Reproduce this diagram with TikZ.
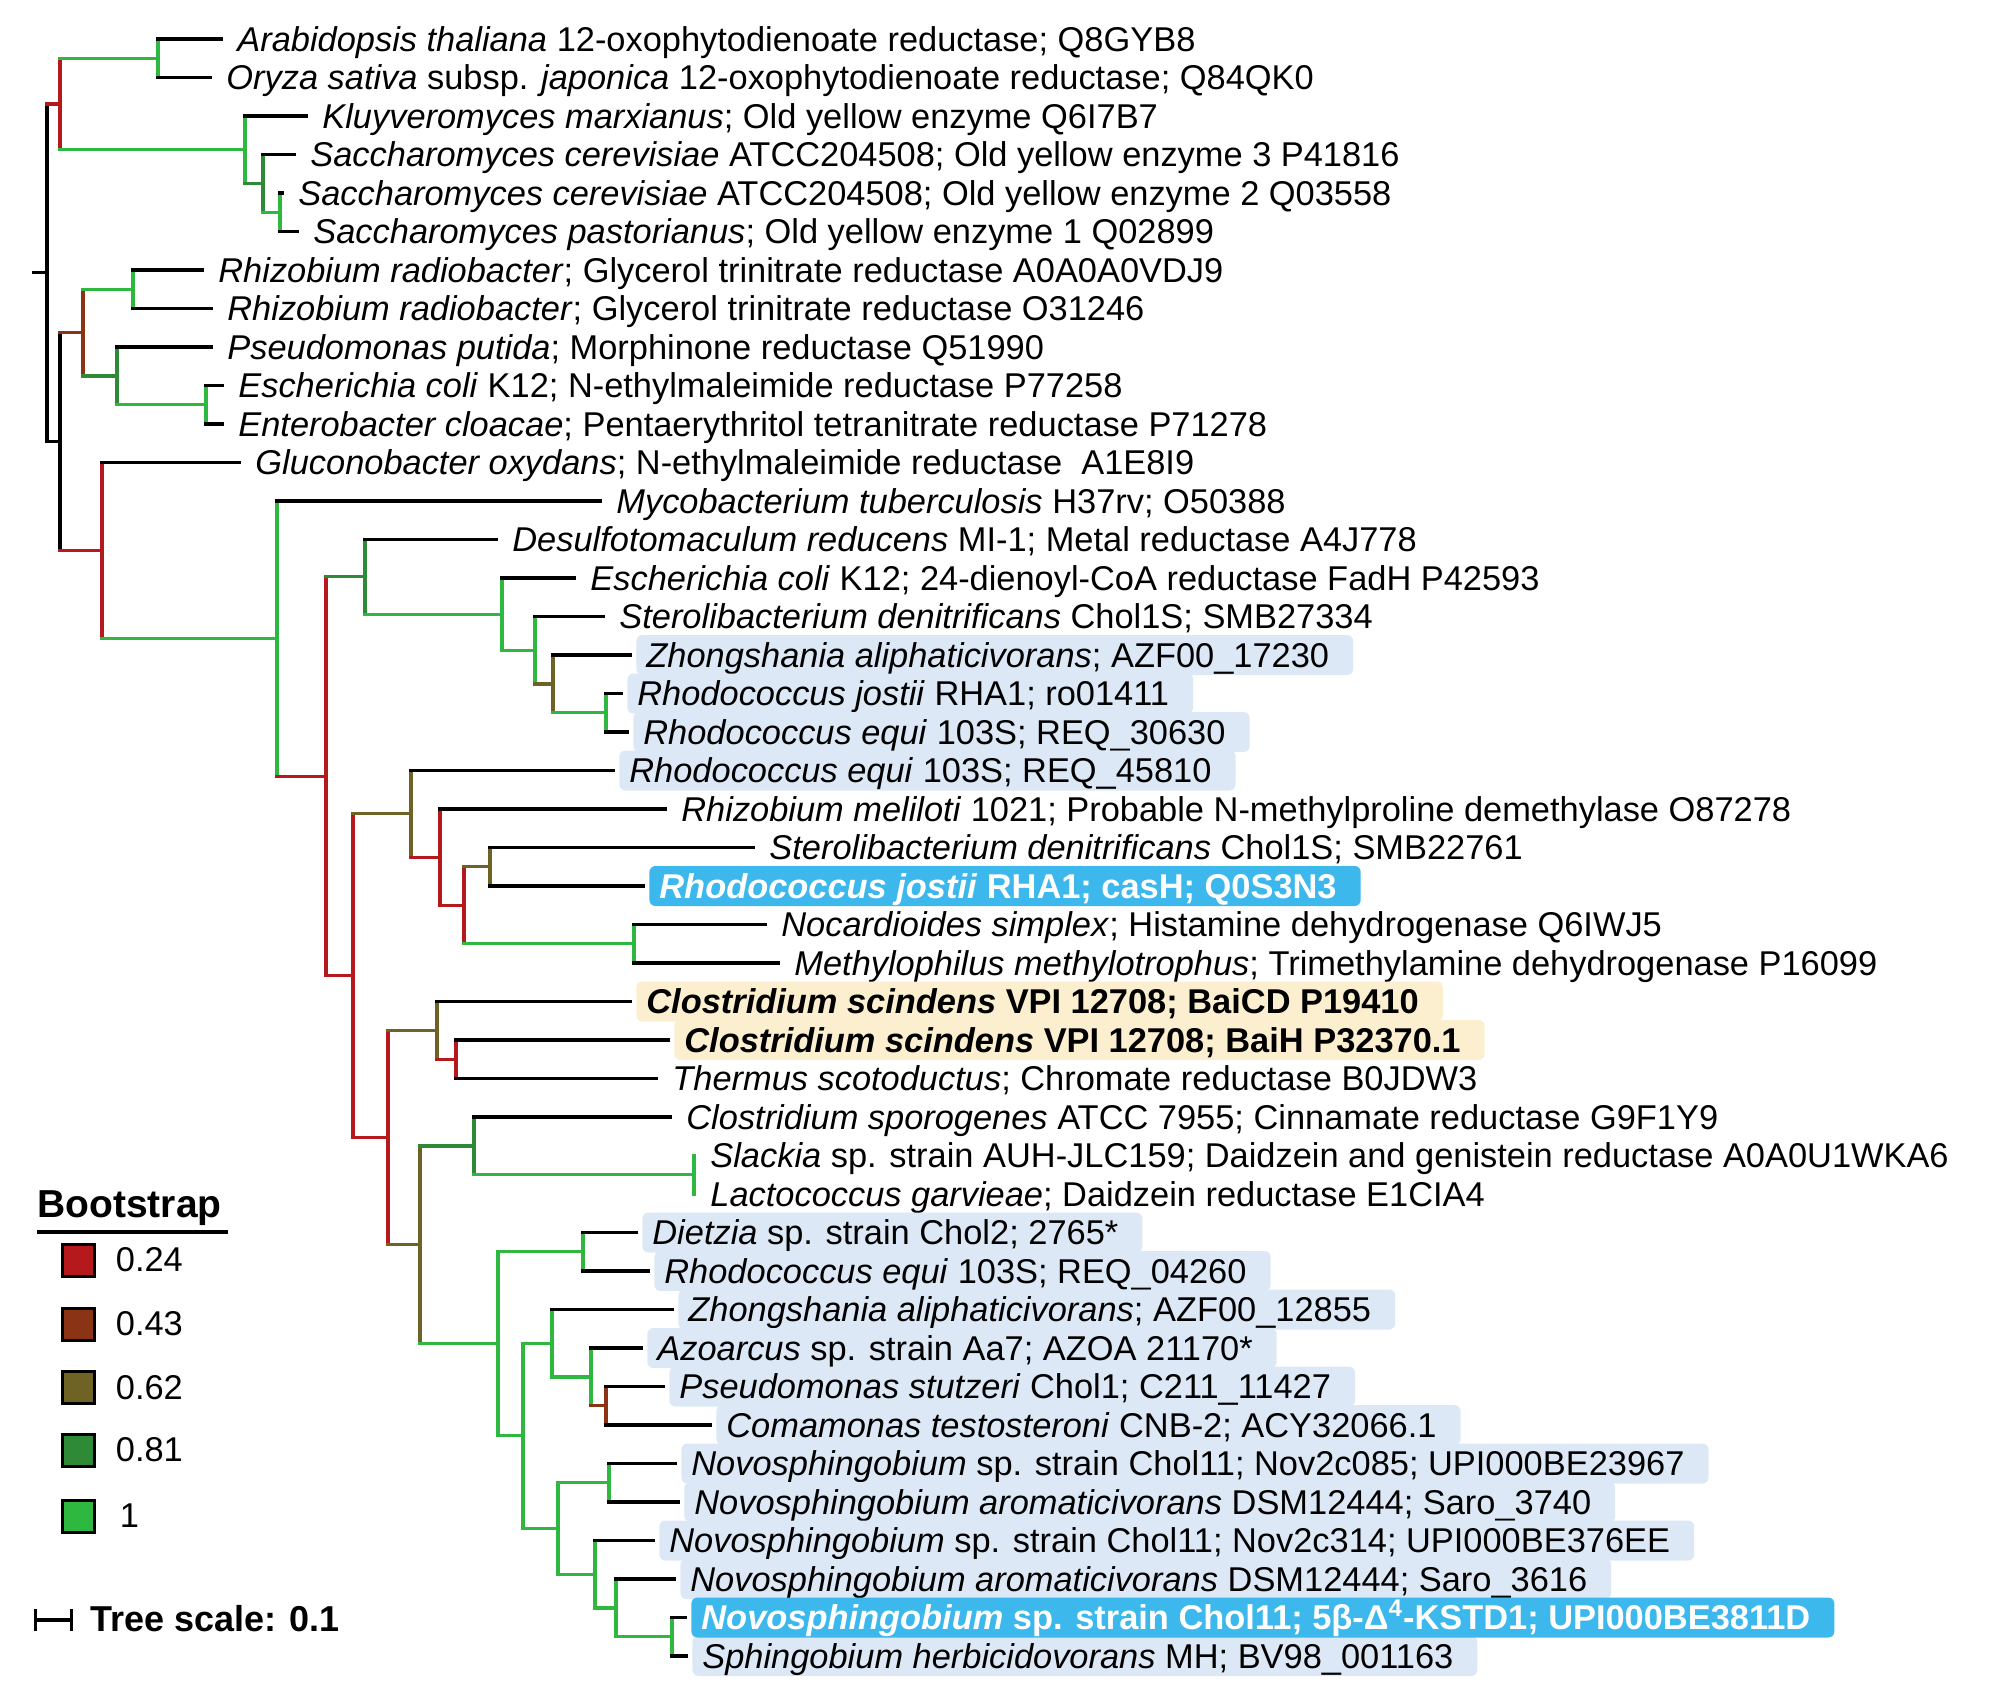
\documentclass[tikz,border=0pt]{standalone}
\usepackage{fontspec}
\setmainfont{Liberation Sans}
\usetikzlibrary{positioning,arrows.meta}

\definecolor{bs24}{HTML}{B5191C}
\definecolor{bs43}{HTML}{8A3315}
\definecolor{bs62}{HTML}{6E6224}
\definecolor{bs81}{HTML}{2E8A37}
\definecolor{bs100}{HTML}{2EB840}
\definecolor{hlblue}{HTML}{DCE8F5}
\definecolor{hlcyan}{HTML}{3CB8EC}
\definecolor{hlyellow}{HTML}{FCEFCF}

\newcommand{\leaffont}{\fontsize{17.2}{20}\selectfont}

\tikzset{
  br/.style={line width=1.6pt, line cap=rect},
  leaf/.style={br, black},
  lab/.style={anchor=west, xshift=3pt, inner xsep=5pt, inner ysep=2pt, text height=14pt, text depth=2pt, font=\leaffont},
  boxed/.style={rounded corners=3pt, execute at end node={\hspace*{7pt}}},
  labbg/.style={lab, boxed, fill=hlblue},
  labhl/.style={lab, boxed, fill=hlcyan, text=white, font=\leaffont\bfseries},
  labyl/.style={lab, boxed, fill=hlyellow, font=\leaffont\bfseries},
  sq/.style={draw=black, line width=1.5pt, minimum size=16pt, inner sep=0pt},
  leglab/.style={inner sep=0pt, font=\leaffont}
}

\begin{document}
\begin{tikzpicture}[x=0.5pt, y=-0.5pt]
    \useasboundingbox (0,0) rectangle (1991,1703);

    % leaves
    \coordinate (athal) at (221,39);
    \coordinate (osat) at (210,77.5);
    \coordinate (kmar) at (306,116);
    \coordinate (scer3) at (294,154.5);
    \coordinate (scer2) at (282,193);
    \coordinate (spas) at (297,231.5);
    \coordinate (rrad1) at (202,270);
    \coordinate (rrad2) at (211,308.5);
    \coordinate (pput) at (211,347);
    \coordinate (ecol1) at (222,385.5);
    \coordinate (eclo) at (222,424);
    \coordinate (goxy) at (239,462.5);
    \coordinate (mtub) at (600,501);
    \coordinate (dred) at (496,539.5);
    \coordinate (ecol2) at (574,578);
    \coordinate (sden1) at (603,616.5);
    \coordinate (zali1) at (630,655);
    \coordinate (rjos1) at (621,693.5);
    \coordinate (requ1) at (627,732);
    \coordinate (requ2) at (613,770.5);
    \coordinate (rmel) at (665,809);
    \coordinate (sden2) at (753,847.5);
    \coordinate (casH) at (643,886);
    \coordinate (nsim) at (765,924.5);
    \coordinate (mmet) at (778,963);
    \coordinate (baicd) at (630,1001.5);
    \coordinate (baih) at (668,1040);
    \coordinate (tsco) at (656,1078.5);
    \coordinate (cspo) at (670,1117);
    \coordinate (slac) at (694,1155.5);
    \coordinate (lgar) at (694,1194);
    \coordinate (diet) at (636,1232.5);
    \coordinate (requ3) at (648,1271);
    \coordinate (zali2) at (672,1309.5);
    \coordinate (azoa) at (641,1348);
    \coordinate (pstu) at (663,1386.5);
    \coordinate (ctes) at (710,1425);
    \coordinate (n085) at (675,1463.5);
    \coordinate (saro1) at (678,1502);
    \coordinate (n314) at (653,1540.5);
    \coordinate (saro2) at (674,1579);
    \coordinate (kstd1) at (685,1617.5);
    \coordinate (sher) at (686,1656);

    % labels
    \node[lab] (athal-t) at (athal) {\textit{Arabidopsis thaliana} 12-oxophytodienoate reductase; Q8GYB8};
    \node[lab] (osat-t) at (osat) {\textit{Oryza sativa} subsp. \textit{japonica} 12-oxophytodienoate reductase; Q84QK0};
    \node[lab] (kmar-t) at (kmar) {\textit{Kluyveromyces marxianus}; Old yellow enzyme Q6I7B7};
    \node[lab] (scer3-t) at (scer3) {\textit{Saccharomyces cerevisiae} ATCC204508; Old yellow enzyme 3 P41816};
    \node[lab] (scer2-t) at (scer2) {\textit{Saccharomyces cerevisiae} ATCC204508; Old yellow enzyme 2 Q03558};
    \node[lab] (spas-t) at (spas) {\textit{Saccharomyces pastorianus}; Old yellow enzyme 1 Q02899};
    \node[lab] (rrad1-t) at (rrad1) {\textit{Rhizobium radiobacter}; Glycerol trinitrate reductase A0A0A0VDJ9};
    \node[lab] (rrad2-t) at (rrad2) {\textit{Rhizobium radiobacter}; Glycerol trinitrate reductase O31246};
    \node[lab] (pput-t) at (pput) {\textit{Pseudomonas putida}; Morphinone reductase Q51990};
    \node[lab] (ecol1-t) at (ecol1) {\textit{Escherichia coli} K12; N-ethylmaleimide reductase P77258};
    \node[lab] (eclo-t) at (eclo) {\textit{Enterobacter cloacae}; Pentaerythritol tetranitrate reductase P71278};
    \node[lab] (goxy-t) at (goxy) {\textit{Gluconobacter oxydans}; N-ethylmaleimide reductase\ \ A1E8I9};
    \node[lab] (mtub-t) at (mtub) {\textit{Mycobacterium tuberculosis} H37rv; O50388};
    \node[lab] (dred-t) at (dred) {\textit{Desulfotomaculum reducens} MI-1; Metal reductase A4J778};
    \node[lab] (ecol2-t) at (ecol2) {\textit{Escherichia coli} K12; 24-dienoyl-CoA reductase FadH P42593};
    \node[lab] (sden1-t) at (sden1) {\textit{Sterolibacterium denitrificans} Chol1S; SMB27334};
    \node[labbg] (zali1-t) at (zali1) {\textit{Zhongshania aliphaticivorans}; AZF00\_17230};
    \node[labbg] (rjos1-t) at (rjos1) {\textit{Rhodococcus jostii} RHA1; ro01411};
    \node[labbg] (requ1-t) at (requ1) {\textit{Rhodococcus equi} 103S; REQ\_30630};
    \node[labbg] (requ2-t) at (requ2) {\textit{Rhodococcus equi} 103S; REQ\_45810};
    \node[lab] (rmel-t) at (rmel) {\textit{Rhizobium meliloti} 1021; Probable N-methylproline demethylase O87278};
    \node[lab] (sden2-t) at (sden2) {\textit{Sterolibacterium denitrificans} Chol1S; SMB22761};
    \node[labhl] (casH-t) at (casH) {\textit{Rhodococcus jostii} RHA1; casH; Q0S3N3};
    \node[lab] (nsim-t) at (nsim) {\textit{Nocardioides simplex}; Histamine dehydrogenase Q6IWJ5};
    \node[lab] (mmet-t) at (mmet) {\textit{Methylophilus methylotrophus}; Trimethylamine dehydrogenase P16099};
    \node[labyl] (baicd-t) at (baicd) {\textit{Clostridium scindens} VPI 12708; BaiCD P19410};
    \node[labyl] (baih-t) at (baih) {\textit{Clostridium scindens} VPI 12708; BaiH P32370.1};
    \node[lab] (tsco-t) at (tsco) {\textit{Thermus scotoductus}; Chromate reductase B0JDW3};
    \node[lab] (cspo-t) at (cspo) {\textit{Clostridium sporogenes} ATCC 7955; Cinnamate reductase G9F1Y9};
    \node[lab] (slac-t) at (slac) {\textit{Slackia} sp. strain AUH-JLC159; Daidzein and genistein reductase A0A0U1WKA6};
    \node[lab] (lgar-t) at (lgar) {\textit{Lactococcus garvieae}; Daidzein reductase E1CIA4};
    \node[labbg] (diet-t) at (diet) {\textit{Dietzia} sp. strain Chol2; 2765*};
    \node[labbg] (requ3-t) at (requ3) {\textit{Rhodococcus equi} 103S; REQ\_04260};
    \node[labbg] (zali2-t) at (zali2) {\textit{Zhongshania aliphaticivorans}; AZF00\_12855};
    \node[labbg] (azoa-t) at (azoa) {\textit{Azoarcus} sp. strain Aa7; AZOA 21170*};
    \node[labbg] (pstu-t) at (pstu) {\textit{Pseudomonas stutzeri} Chol1; C211\_11427};
    \node[labbg] (ctes-t) at (ctes) {\textit{Comamonas testosteroni} CNB-2; ACY32066.1};
    \node[labbg] (n085-t) at (n085) {\textit{Novosphingobium} sp. strain Chol11; Nov2c085; UPI000BE23967};
    \node[labbg] (saro1-t) at (saro1) {\textit{Novosphingobium aromaticivorans} DSM12444; Saro\_3740};
    \node[labbg] (n314-t) at (n314) {\textit{Novosphingobium} sp. strain Chol11; Nov2c314; UPI000BE376EE};
    \node[labbg] (saro2-t) at (saro2) {\textit{Novosphingobium aromaticivorans} DSM12444; Saro\_3616};
    \node[labbg] (sher-t) at (sher) {\textit{Sphingobium herbicidovorans} MH; BV98\_001163};
    \node[labhl] (kstd1-t) at (kstd1) {\textit{Novosphingobium} sp. strain Chol11; 5β-Δ\textsuperscript{4}-KSTD1; UPI000BE3811D};

    % inner nodes
    \coordinate (rootstub) at (33.5,272.8);
    \coordinate (root) at (47,272.8);
    \coordinate (oye) at (60,104);
    \coordinate (opr) at (158,58.25);
    \coordinate (yst) at (245,149.7);
    \coordinate (yst2) at (263,183.4);
    \coordinate (yst3) at (280,212.25);
    \coordinate (bact) at (60,441.6);
    \coordinate (nem) at (83,332.6);
    \coordinate (rrad) at (133,289.25);
    \coordinate (ppu) at (117,375.9);
    \coordinate (ent) at (206,404.75);
    \coordinate (rest) at (102,550.6);
    \coordinate (myc) at (277,638.6);
    \coordinate (ksa) at (326,776.3);
    \coordinate (des) at (365,576.8);
    \coordinate (fadh) at (502,614.1);
    \coordinate (ster) at (535,650.2);
    \coordinate (zho) at (553,683.9);
    \coordinate (rho) at (606,712.75);
    \coordinate (mid) at (353,975.7);
    \coordinate (cas) at (411,813.8);
    \coordinate (mel) at (440,857.1);
    \coordinate (tma) at (464,905.25);
    \coordinate (sdn) at (490,866.75);
    \coordinate (noc) at (634,943.75);
    \coordinate (bai) at (388,1137.6);
    \coordinate (scin) at (437,1030.4);
    \coordinate (scin2) at (456,1059.25);
    \coordinate (kst) at (420,1244.8);
    \coordinate (dzn) at (474,1145.9);
    \coordinate (sla) at (694,1174.75);
    \coordinate (act) at (498,1343.8);
    \coordinate (die) at (583,1251.75);
    \coordinate (pro) at (523,1435.8);
    \coordinate (zal) at (552,1343.2);
    \coordinate (azo) at (591,1376.9);
    \coordinate (pst) at (606,1405.75);
    \coordinate (nov) at (558,1528.5);
    \coordinate (nov1) at (609,1482.75);
    \coordinate (nov2) at (595,1574.2);
    \coordinate (nov3) at (616,1607.9);
    \coordinate (nov4) at (672,1636.75);

    % inner branches
    \draw[br] (rootstub) -- (root) (root |- oye) -- (root |- bact);
    \draw[br, bs24] (root |- oye) -- (oye) (oye |- opr) -- (oye |- yst);
    \draw[br, bs100] (oye |- opr) -- (opr) (opr |- athal) -- (opr |- osat);
    \draw[br, bs100] (oye |- yst) -- (yst) (yst |- kmar) -- (yst |- yst2);
    \draw[br, bs81] (yst |- yst2) -- (yst2) (yst2 |- scer3) -- (yst2 |- yst3);
    \draw[br, bs100] (yst2 |- yst3) -- (yst3) (yst3 |- scer2) -- (yst3 |- spas);
    \draw[br] (root |- bact) -- (bact) (bact |- nem) -- (bact |- rest);
    \draw[br, bs43] (bact |- nem) -- (nem) (nem |- rrad) -- (nem |- ppu);
    \draw[br, bs100] (nem |- rrad) -- (rrad) (rrad |- rrad1) -- (rrad |- rrad2);
    \draw[br, bs81] (nem |- ppu) -- (ppu) (ppu |- pput) -- (ppu |- ent);
    \draw[br, bs100] (ppu |- ent) -- (ent) (ent |- ecol1) -- (ent |- eclo);
    \draw[br, bs24] (bact |- rest) -- (rest) (rest |- goxy) -- (rest |- myc);
    \draw[br, bs100] (rest |- myc) -- (myc) (myc |- mtub) -- (myc |- ksa);
    \draw[br, bs24] (myc |- ksa) -- (ksa) (ksa |- des) -- (ksa |- mid);
    \draw[br, bs81] (ksa |- des) -- (des) (des |- dred) -- (des |- fadh);
    \draw[br, bs100] (des |- fadh) -- (fadh) (fadh |- ecol2) -- (fadh |- ster);
    \draw[br, bs100] (fadh |- ster) -- (ster) (ster |- sden1) -- (ster |- zho);
    \draw[br, bs62] (ster |- zho) -- (zho) (zho |- zali1) -- (zho |- rho);
    \draw[br, bs100] (zho |- rho) -- (rho) (rho |- rjos1) -- (rho |- requ1);
    \draw[br, bs24] (ksa |- mid) -- (mid) (mid |- cas) -- (mid |- bai);
    \draw[br, bs62] (mid |- cas) -- (cas) (cas |- requ2) -- (cas |- mel);
    \draw[br, bs24] (cas |- mel) -- (mel) (mel |- rmel) -- (mel |- tma);
    \draw[br, bs24] (mel |- tma) -- (tma) (tma |- sdn) -- (tma |- noc);
    \draw[br, bs62] (tma |- sdn) -- (sdn) (sdn |- sden2) -- (sdn |- casH);
    \draw[br, bs100] (tma |- noc) -- (noc) (noc |- nsim) -- (noc |- mmet);
    \draw[br, bs24] (mid |- bai) -- (bai) (bai |- scin) -- (bai |- kst);
    \draw[br, bs62] (bai |- scin) -- (scin) (scin |- baicd) -- (scin |- scin2);
    \draw[br, bs24] (scin |- scin2) -- (scin2) (scin2 |- baih) -- (scin2 |- tsco);
    \draw[br, bs62] (bai |- kst) -- (kst) (kst |- dzn) -- (kst |- act);
    \draw[br, bs81] (kst |- dzn) -- (dzn) (dzn |- cspo) -- (dzn |- sla);
    \draw[br, bs100] (dzn |- sla) -- (sla) (sla |- slac) -- (sla |- lgar);
    \draw[br, bs100] (kst |- act) -- (act) (act |- die) -- (act |- pro);
    \draw[br, bs100] (act |- die) -- (die) (die |- diet) -- (die |- requ3);
    \draw[br, bs100] (act |- pro) -- (pro) (pro |- zal) -- (pro |- nov);
    \draw[br, bs100] (pro |- zal) -- (zal) (zal |- zali2) -- (zal |- azo);
    \draw[br, bs100] (zal |- azo) -- (azo) (azo |- azoa) -- (azo |- pst);
    \draw[br, bs43] (azo |- pst) -- (pst) (pst |- pstu) -- (pst |- ctes);
    \draw[br, bs100] (pro |- nov) -- (nov) (nov |- nov1) -- (nov |- nov2);
    \draw[br, bs100] (nov |- nov1) -- (nov1) (nov1 |- n085) -- (nov1 |- saro1);
    \draw[br, bs100] (nov |- nov2) -- (nov2) (nov2 |- n314) -- (nov2 |- nov3);
    \draw[br, bs100] (nov2 |- nov3) -- (nov3) (nov3 |- saro2) -- (nov3 |- nov4);
    \draw[br, bs100] (nov3 |- nov4) -- (nov4) (nov4 |- kstd1) -- (nov4 |- sher);

    % leaf branches
    \draw[leaf] (opr |- athal) -- (athal);
    \draw[leaf] (opr |- osat) -- (osat);
    \draw[leaf] (yst |- kmar) -- (kmar);
    \draw[leaf] (yst2 |- scer3) -- (scer3);
    \draw[leaf] (yst3 |- scer2) -- (scer2);
    \draw[leaf] (yst3 |- spas) -- (spas);
    \draw[leaf] (rrad |- rrad1) -- (rrad1);
    \draw[leaf] (rrad |- rrad2) -- (rrad2);
    \draw[leaf] (ppu |- pput) -- (pput);
    \draw[leaf] (ent |- ecol1) -- (ecol1);
    \draw[leaf] (ent |- eclo) -- (eclo);
    \draw[leaf] (rest |- goxy) -- (goxy);
    \draw[leaf] (myc |- mtub) -- (mtub);
    \draw[leaf] (des |- dred) -- (dred);
    \draw[leaf] (fadh |- ecol2) -- (ecol2);
    \draw[leaf] (ster |- sden1) -- (sden1);
    \draw[leaf] (zho |- zali1) -- (zali1);
    \draw[leaf] (rho |- rjos1) -- (rjos1);
    \draw[leaf] (rho |- requ1) -- (requ1);
    \draw[leaf] (cas |- requ2) -- (requ2);
    \draw[leaf] (mel |- rmel) -- (rmel);
    \draw[leaf] (sdn |- sden2) -- (sden2);
    \draw[leaf] (sdn |- casH) -- (casH);
    \draw[leaf] (noc |- nsim) -- (nsim);
    \draw[leaf] (noc |- mmet) -- (mmet);
    \draw[leaf] (scin |- baicd) -- (baicd);
    \draw[leaf] (scin2 |- baih) -- (baih);
    \draw[leaf] (scin2 |- tsco) -- (tsco);
    \draw[leaf] (dzn |- cspo) -- (cspo);
    \draw[leaf] (die |- diet) -- (diet);
    \draw[leaf] (die |- requ3) -- (requ3);
    \draw[leaf] (zal |- zali2) -- (zali2);
    \draw[leaf] (azo |- azoa) -- (azoa);
    \draw[leaf] (pst |- pstu) -- (pstu);
    \draw[leaf] (pst |- ctes) -- (ctes);
    \draw[leaf] (nov1 |- n085) -- (n085);
    \draw[leaf] (nov1 |- saro1) -- (saro1);
    \draw[leaf] (nov2 |- n314) -- (n314);
    \draw[leaf] (nov3 |- saro2) -- (saro2);
    \draw[leaf] (nov4 |- kstd1) -- (kstd1);
    \draw[leaf] (nov4 |- sher) -- (sher);

    % legend
    \node[anchor=base west, inner sep=0pt, font=\fontsize{19.5}{23}\selectfont\bfseries] (bstitle) at (37,1217) {Bootstrap};
    \draw[line width=1.8pt] ([yshift=-7.5pt]bstitle.base west) -- ++(191,0);
    \node[sq, fill=bs24] (sq24) at (78,1260) {};
    \node[sq, fill=bs43] (sq43) at (78,1324) {};
    \node[sq, fill=bs62] (sq62) at (78,1387.5) {};
    \node[sq, fill=bs81] (sq81) at (78,1450) {};
    \node[sq, fill=bs100] (sq100) at (78,1516) {};
    \node[leglab, right=10pt of sq24] (t24) {0.24};
    \node[leglab, right=10pt of sq43] (t43) {0.43};
    \node[leglab, right=10pt of sq62] (t62) {0.62};
    \node[leglab, right=10pt of sq81] (t81) {0.81};
    \node[leglab, right=12pt of sq100] (t100) {1};

    \coordinate (barl) at (34,1620);
    \coordinate (barr) at (73,1620);
    \draw[line width=1.6pt, {Bar[width=11pt]}-{Bar[width=11pt]}] (barl) -- (barr);
    \node[anchor=base west, inner sep=0pt, font=\fontsize{18}{22}\selectfont\bfseries] (tscale) at (90,1631) {Tree scale: 0.1};
\end{tikzpicture}
\end{document}
